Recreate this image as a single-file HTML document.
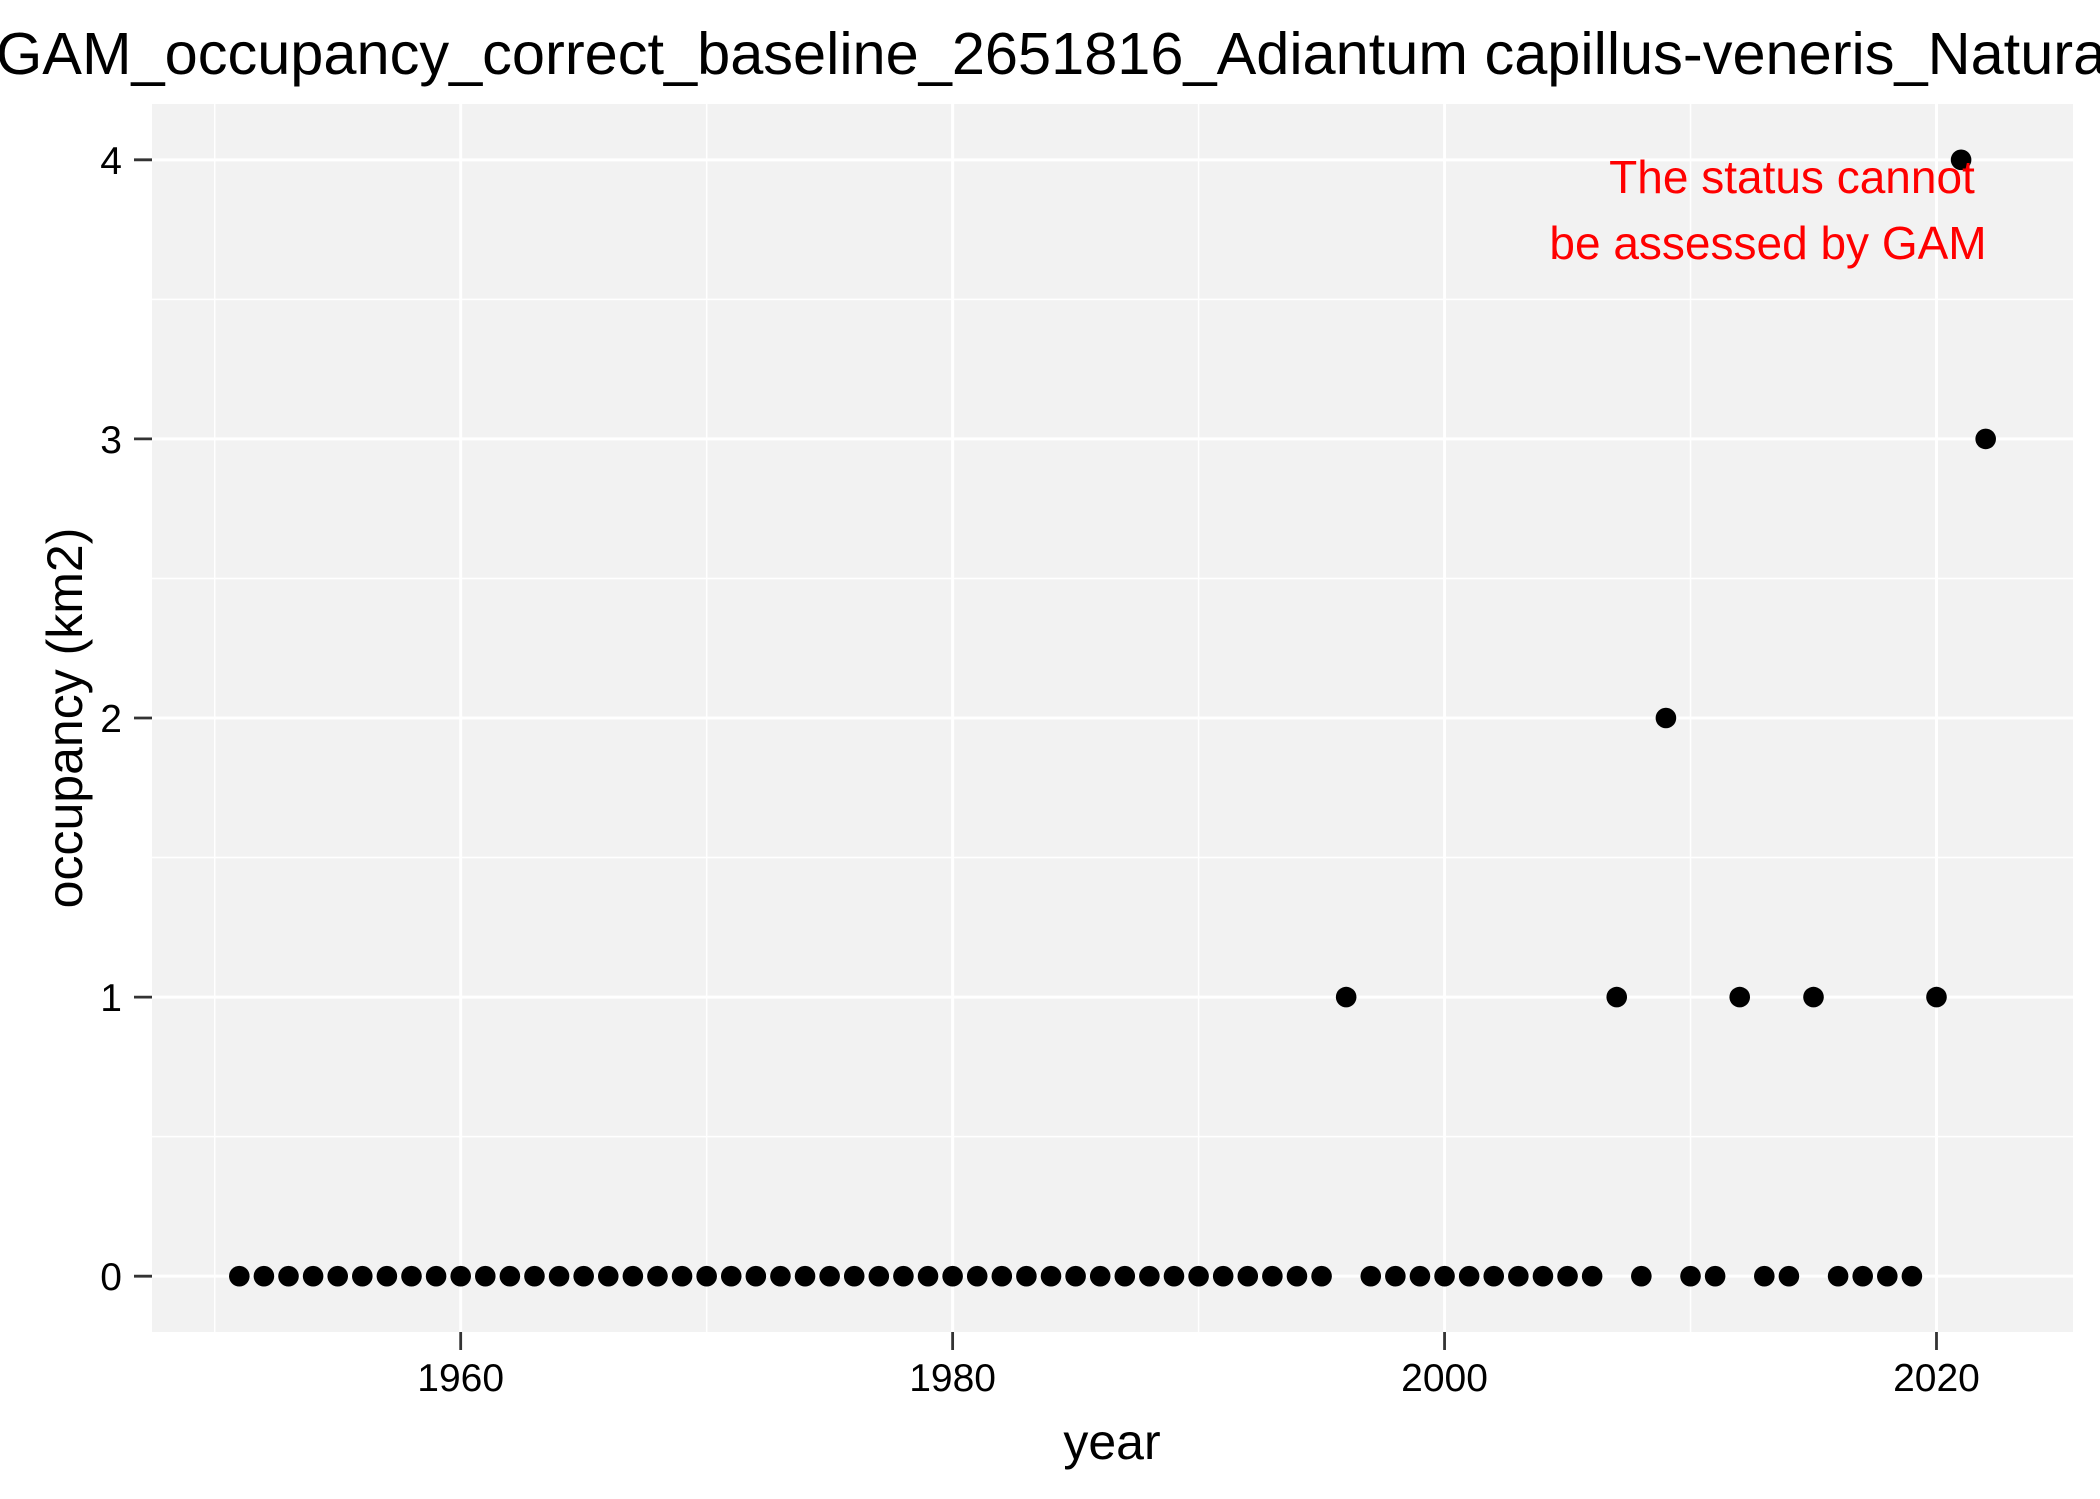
<!DOCTYPE html>
<html><head><meta charset="utf-8"><style>
html,body{margin:0;padding:0;background:#fff;}
svg{display:block;font-family:"Liberation Sans",Arial,sans-serif;}
</style></head><body>
<svg id="chart" width="2100" height="1499" viewBox="0 0 2100 1499" xmlns="http://www.w3.org/2000/svg">
<rect x="0" y="0" width="2100" height="1499" fill="#fff"/>
<text x="-4" y="74" font-size="59.5" fill="#000">GAM_occupancy_correct_baseline_2651816_Adiantum capillus-veneris_Naturalis</text>
<rect x="152" y="104" width="1921" height="1228" fill="#f2f2f2"/>
<g id="grid"></g>
<g id="axes"></g>
<g id="points"></g>
<text x="1792" y="193" font-size="46" fill="#ff0000" text-anchor="middle">The status cannot</text>
<text x="1768" y="259" font-size="46" fill="#ff0000" text-anchor="middle">be assessed by GAM</text>
<text x="1112" y="1459" font-size="50" fill="#000" text-anchor="middle">year</text>
<text x="0" y="0" font-size="50" fill="#000" text-anchor="middle" transform="translate(82,718) rotate(-90)">occupancy (km2)</text>
</svg>
<script>
const years = [1951,1952,1953,1954,1955,1956,1957,1958,1959,1960,1961,1962,1963,1964,1965,1966,1967,1968,1969,1970,1971,1972,1973,1974,1975,1976,1977,1978,1979,1980,1981,1982,1983,1984,1985,1986,1987,1988,1989,1990,1991,1992,1993,1994,1995,1996,1997,1998,1999,2000,2001,2002,2003,2004,2005,2006,2007,2008,2009,2010,2011,2012,2013,2014,2015,2016,2017,2018,2019,2020,2021,2022];
const occupancy = [0,0,0,0,0,0,0,0,0,0,0,0,0,0,0,0,0,0,0,0,0,0,0,0,0,0,0,0,0,0,0,0,0,0,0,0,0,0,0,0,0,0,0,0,0,1,0,0,0,0,0,0,0,0,0,0,1,0,2,0,0,1,0,0,1,0,0,0,0,1,4,3];
const xTicks = [1960,1980,2000,2020];
const xMinor = [1950,1970,1990,2010];
const yTicks = [0,1,2,3,4];
const yMinor = [0.5,1.5,2.5,3.5];

const NS="http://www.w3.org/2000/svg";
const PL=152, PR=2073, PT=104, PB=1332;
const xMin=1947.45, xMax=2025.55, yMin=-0.2, yMax=4.2;
function sx(v){return PL+(v-xMin)/(xMax-xMin)*(PR-PL);}
function sy(v){return PB-(v-yMin)/(yMax-yMin)*(PB-PT);}
function mk(tag,attrs,parent){const e=document.createElementNS(NS,tag);for(const k in attrs)e.setAttribute(k,attrs[k]);parent.appendChild(e);return e;}
const grid=document.getElementById('grid'), axes=document.getElementById('axes'), pts=document.getElementById('points');

yMinor.forEach(v=>{
  const l=mk('line',{x1:PL,x2:PR,y1:sy(v),y2:sy(v),stroke:'#fff','stroke-width':1.5},grid);
  
  
});
xMinor.forEach(v=>{
  const l=mk('line',{x1:sx(v),x2:sx(v),y1:PT,y2:PB,stroke:'#fff','stroke-width':1.5},grid);
  
  
});
yTicks.forEach(v=>{
  const l=mk('line',{x1:PL,x2:PR,y1:sy(v),y2:sy(v),stroke:'#fff','stroke-width':3},grid);
  
  
  const t=mk('line',{x1:PL-18,x2:PL,y1:sy(v),y2:sy(v),stroke:'#333','stroke-width':2.8},axes);
  
  
  const tx=mk('text',{x:PL-30,y:sy(v)+14,'font-size':39,'text-anchor':'end',fill:'#000'},axes);
  tx.textContent=v;
  
  
});
xTicks.forEach(v=>{
  const l=mk('line',{x1:sx(v),x2:sx(v),y1:PT,y2:PB,stroke:'#fff','stroke-width':3},grid);
  
  
  const t=mk('line',{x1:sx(v),x2:sx(v),y1:PB,y2:PB+18,stroke:'#333','stroke-width':2.8},axes);
  
  
  const tx=mk('text',{x:sx(v),y:PB+59,'font-size':39,'text-anchor':'middle',fill:'#000'},axes);
  tx.textContent=v;
  
  
});
years.forEach((yr,i)=>{
  const c=mk('circle',{cx:sx(yr),cy:sy(occupancy[i]),r:10.3,fill:'#000'},pts);
  
  
});
</script>
</body></html>
